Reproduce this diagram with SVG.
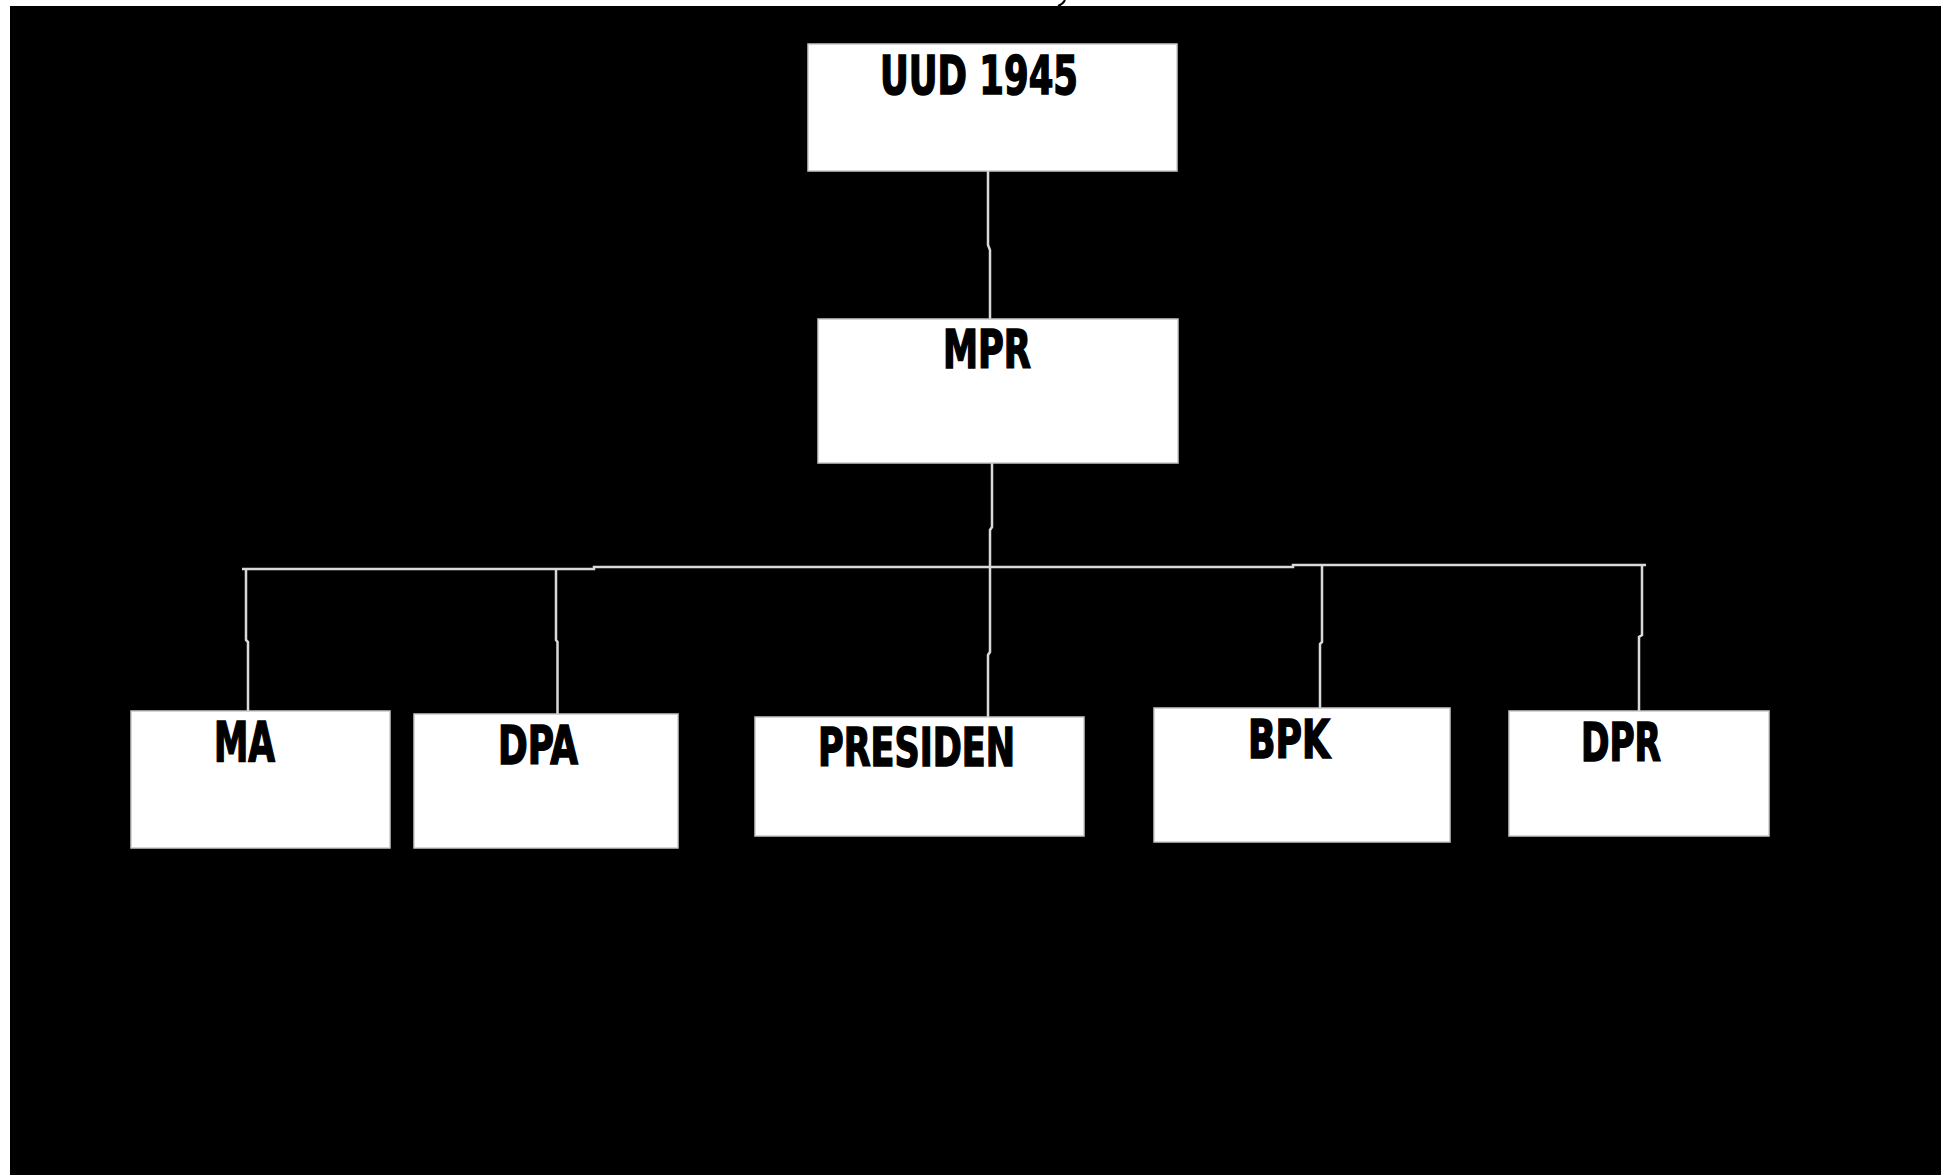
<svg xmlns="http://www.w3.org/2000/svg" width="1941" height="1175" viewBox="0 0 1941 1175">
<style>
.box{fill:#ffffff;stroke:#c8c8c8;stroke-width:1.5}
.lbl{font-family:"DejaVu Sans Condensed","DejaVu Sans",sans-serif;font-weight:bold;fill:#000000;stroke:#000000;stroke-width:1.6}
.con{stroke:#d9d9d9;stroke-width:2.5;fill:none}
</style>
<rect x="0" y="0" width="1941" height="1175" fill="#ffffff"/>
<rect x="10" y="6" width="1931" height="1169" fill="#000000"/>
<path d="M1065 0 Q1063 4 1058 6" stroke="#000" stroke-width="2" fill="none"/>
<g id="connectors">
<path class="con" d="M988 171 L988 245 L990 250 L990 319"/>
<path class="con" d="M992 463 L992 527 L990 530 L990 567 L990 652 L988 655 L988 717"/>
<path class="con" d="M242 569 L594 569 L594 567 L1293 567 L1293 565 L1646 565"/>
<path class="con" d="M246 569 L246 640 L248 642 L248 711"/>
<path class="con" d="M556 569 L556 640 L557.5 642 L557.5 714"/>
<path class="con" d="M1322 565 L1322 642 L1320 644 L1320 708"/>
<path class="con" d="M1642 565 L1642 635 L1639 637 L1639 711"/>
</g>
<g id="uud1945">
<rect class="box" x="808" y="44" width="369" height="127"/>
<text class="lbl" x="880" y="94" font-size="54" textLength="198" lengthAdjust="spacingAndGlyphs">UUD 1945</text>
</g>
<g id="mpr">
<rect class="box" x="818" y="319" width="360" height="144"/>
<text class="lbl" x="943" y="368" font-size="53" textLength="88" lengthAdjust="spacingAndGlyphs">MPR</text>
</g>
<g id="ma">
<rect class="box" x="131" y="711" width="259" height="137"/>
<text class="lbl" x="214" y="761" font-size="56" textLength="61" lengthAdjust="spacingAndGlyphs">MA</text>
</g>
<g id="dpa">
<rect class="box" x="414" y="714" width="264" height="134"/>
<text class="lbl" x="498" y="764" font-size="53" textLength="80" lengthAdjust="spacingAndGlyphs">DPA</text>
</g>
<g id="presiden">
<rect class="box" x="755" y="717" width="329" height="119"/>
<text class="lbl" x="818" y="766" font-size="54" textLength="197" lengthAdjust="spacingAndGlyphs">PRESIDEN</text>
</g>
<g id="bpk">
<rect class="box" x="1154" y="708" width="296" height="134"/>
<text class="lbl" x="1248" y="758" font-size="54" textLength="82" lengthAdjust="spacingAndGlyphs">BPK</text>
</g>
<g id="dpr">
<rect class="box" x="1509" y="711" width="260" height="125"/>
<text class="lbl" x="1581" y="761" font-size="54" textLength="80" lengthAdjust="spacingAndGlyphs">DPR</text>
</g>
</svg>
